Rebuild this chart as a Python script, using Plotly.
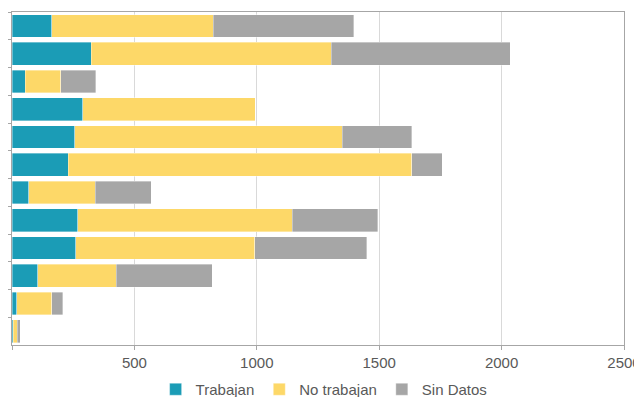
import plotly.graph_objects as go

categories = ["1", "2", "3", "4", "5", "6", "7", "8", "9", "10", "11", "12"]
trabajan = [163, 324, 54, 290, 257, 230, 69, 268, 261, 106, 20, 5]
no_trabajan = [659, 980, 146, 703, 1092, 1402, 271, 877, 731, 320, 143, 17]
sin_datos = [574, 731, 143, 0, 284, 125, 228, 349, 458, 393, 45, 11]

series = [
    ("Trabajan", trabajan, "#1B9CB6"),
    ("No trabajan", no_trabajan, "#FDD868"),
    ("Sin Datos", sin_datos, "#A6A6A6"),
]

fig = go.Figure()
for name, vals, color in series:
    fig.add_trace(go.Bar(
        y=categories, x=vals, name=name, orientation="h",
        marker=dict(color=color, line=dict(color="rgba(255,255,255,0.6)", width=0.6)),
    ))

# page body has an 8px default margin, so the figure is sized to fit the 642x397 window
fig.update_layout(
    barmode="stack",
    bargap=0.18,
    width=634, height=389,
    margin=dict(l=4, r=18, t=4, b=52, autoexpand=False),
    paper_bgcolor="white", plot_bgcolor="white",
    font=dict(family="Liberation Sans", size=15, color="#595959"),
    showlegend=True,
    legend=dict(orientation="h", x=0.51, xanchor="center", y=-0.084, yanchor="top",
                font=dict(family="Liberation Sans", size=15, color="#595959"),
                traceorder="normal", itemwidth=30, tracegroupgap=0),
)
fig.update_xaxes(
    range=[0, 2500], dtick=500, tick0=0,
    showgrid=True, gridcolor="#D9D9D9", gridwidth=1,
    showline=True, linecolor="#A6A6A6", linewidth=1, mirror=True,
    ticks="outside", ticklen=4, tickcolor="#A6A6A6",
    zeroline=False, fixedrange=True, automargin=False,
)
fig.update_yaxes(
    categoryorder="array", categoryarray=categories, autorange="reversed",
    showticklabels=False,
    showline=True, linecolor="#A6A6A6", linewidth=1, mirror=True,
    ticks="outside", ticklen=4, tickcolor="#A6A6A6", tickson="boundaries",
    showgrid=False, zeroline=False, automargin=False,
)

fig.write_html("out.html")
